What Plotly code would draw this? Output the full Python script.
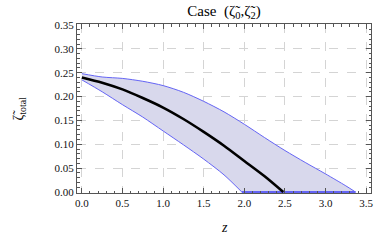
import plotly.graph_objects as go

# Data
upper_z = [0, 0.25, 0.5, 0.75, 1.0, 1.25, 1.5, 1.75, 2.0, 2.25, 2.5, 2.75, 3.0, 3.25, 3.37]
upper_y = [0.248, 0.241, 0.238, 0.232, 0.223, 0.209, 0.190, 0.168, 0.142, 0.114, 0.087, 0.062, 0.038, 0.013, 0.0]

lower_z = [0, 0.25, 0.5, 0.75, 1.0, 1.25, 1.5, 1.75, 1.97]
lower_y = [0.235, 0.210, 0.183, 0.157, 0.128, 0.099, 0.069, 0.036, 0.0]

mid_z = [0, 0.25, 0.5, 0.75, 1.0, 1.25, 1.5, 1.75, 2.0, 2.25, 2.48]
mid_y = [0.240, 0.229, 0.215, 0.197, 0.177, 0.153, 0.126, 0.097, 0.065, 0.033, 0.0]

x_ticks = [0.0, 0.5, 1.0, 1.5, 2.0, 2.5, 3.0, 3.5]
y_ticks = [0.00, 0.05, 0.10, 0.15, 0.20, 0.25, 0.30, 0.35]

edge = "rgb(100,100,245)"
fig = go.Figure()
fig.add_trace(go.Scatter(x=lower_z, y=lower_y, mode="lines",
                         line=dict(color=edge, width=1, shape="spline", smoothing=0.8),
                         hoverinfo="skip", showlegend=False))
fig.add_trace(go.Scatter(x=upper_z, y=upper_y, mode="lines", fill="tonexty",
                         fillcolor="rgb(216,216,236)",
                         line=dict(color=edge, width=1, shape="spline", smoothing=0.8),
                         hoverinfo="skip", showlegend=False))
fig.add_trace(go.Scatter(x=[lower_z[-1], upper_z[-1]], y=[lower_y[-1], upper_y[-1]], mode="lines",
                         line=dict(color=edge, width=2),
                         hoverinfo="skip", showlegend=False))
fig.add_trace(go.Scatter(x=mid_z, y=mid_y, mode="lines",
                         line=dict(color="black", width=2.6, shape="spline", smoothing=0.8),
                         showlegend=False))

serif = "Liberation Serif, Times New Roman, serif"
axis_common = dict(
    showline=True, linecolor="#555", linewidth=1, mirror="ticks",
    ticks="inside", ticklen=5, tickcolor="#555", tickwidth=1,
    showgrid=True, gridcolor="#d4d4d4", griddash="dash", gridwidth=1,
    zeroline=False, automargin=False,
    tickfont=dict(family=serif, size=11, color="#111"),
)

fig.update_xaxes(range=[-0.06, 3.56], tickvals=x_ticks,
                 ticktext=[f"{v:.1f}" for v in x_ticks],
                 minor=dict(ticks="inside", ticklen=2.5, tickcolor="#555", dtick=0.1, showgrid=False),
                 **axis_common)
fig.update_yaxes(range=[-0.002, 0.352], tickvals=y_ticks,
                 ticktext=[f"{v:.2f}" for v in y_ticks],
                 minor=dict(ticks="inside", ticklen=2.5, tickcolor="#555", dtick=0.01, showgrid=False),
                 **axis_common)

fig.update_layout(
    width=382, height=245,
    margin=dict(l=77, r=11, t=24, b=52),
    plot_bgcolor="white", paper_bgcolor="white",
    title=dict(text="Case  (ζ̃<sub>0</sub>,ζ̃<sub>2</sub>)", x=0.5, xref="paper",
               y=1 - 11 / 245, yref="container", yanchor="middle",
               font=dict(family=serif, size=15, color="#000")),
    annotations=[
        dict(text="ζ̃<sub>total</sub>", xref="paper", yref="paper", x=-0.194, y=0.5,
             xanchor="center", yanchor="middle", showarrow=False, textangle=-90,
             font=dict(family=serif, size=14, color="#111")),
        dict(text="<i>z</i>", xref="paper", yref="paper", x=0.5, y=-0.207,
             xanchor="center", yanchor="middle", showarrow=False,
             font=dict(family=serif, size=14, color="#111")),
    ],
)

fig.write_html("out.html", config={"displayModeBar": False},
               post_script="document.body.style.margin='0';document.body.style.overflow='hidden';")
